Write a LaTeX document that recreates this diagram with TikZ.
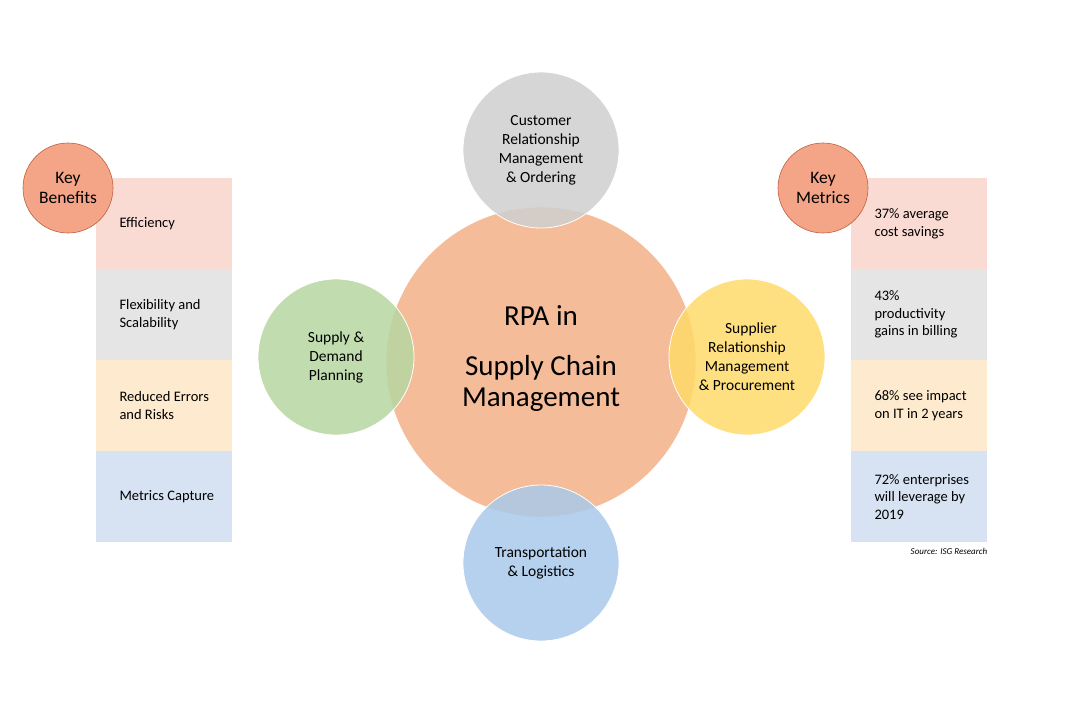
\documentclass[tikz,border=0pt]{standalone}
\usepackage{fontspec}
\setmainfont{Carlito}
\usetikzlibrary{positioning}
\definecolor{hubfill}{HTML}{F4BC98}
\definecolor{crmfill}{HTML}{CFCFCF}
\definecolor{tlfill}{HTML}{A9C9EA}
\definecolor{sdpfill}{HTML}{B6D7A1}
\definecolor{srmfill}{HTML}{FFDA6A}
\definecolor{keyfill}{HTML}{F4A587}
\definecolor{keyline}{HTML}{C0603E}
\definecolor{rowa}{HTML}{FADBD3}
\definecolor{rowb}{HTML}{E5E5E5}
\definecolor{rowc}{HTML}{FEEACF}
\definecolor{rowd}{HTML}{D7E2F2}
\tikzset{
  sat/.style={circle, minimum size=156pt, inner sep=0pt, draw=white, line width=0.8pt,
    fill opacity=0.85, text opacity=1, align=center, font=\fontsize{15.5}{19}\selectfont},
  key/.style={circle, minimum size=90pt, inner sep=0pt, fill=keyfill, draw=keyline,
    line width=0.6pt, align=center, font=\fontsize{17.5}{20}\selectfont},
  row/.style={minimum width=136pt, minimum height=91pt, inner sep=0pt, anchor=north west},
  rowtext/.style={anchor=west, align=left, font=\fontsize{14.5}{17.5}\selectfont}
}
\begin{document}
\begin{tikzpicture}[x=1pt,y=-1pt]
\useasboundingbox (0,0) rectangle (1088,716);
% hub
\node[circle, minimum size=310pt, fill=hubfill, draw=white, line width=0.8pt] (hub) at (541,362) {};
\node[font=\fontsize{29}{34}\selectfont] (hubtop) at (541,316) {RPA in};
\node[font=\fontsize{29}{31}\selectfont, align=center] (hubbot) at (541,383) {Supply Chain\\Management};
% satellites
\node[sat, fill=crmfill] (crm) at (541,150) {Customer\\Relationship\\Management\\\& Ordering};
\node[sat, fill=tlfill] (tl) at (541,563) {Transportation\\\& Logistics};
\node[sat, fill=sdpfill] (sdp) at (336,357) {Supply \&\\Demand\\Planning};
\node[sat, fill=srmfill] (srm) at (747,357) {\hspace*{8pt}Supplier\\Relationship\\Management\\\& Procurement};
% left panel
\foreach \c/\t [count=\i] in {rowa/Efficiency, rowb/{Flexibility and\\Scalability},
    rowc/{Reduced Errors\\and Risks}, rowd/Metrics Capture} {
  \node[row, fill=\c] (ben\i) at (96,{178+91*(\i-1)}) {};
  \node[rowtext] at ([xshift=20pt]ben\i.west) {\t};
}
\node[key] (benkey) at (68,188) {Key\\Benefits};
% right panel
\foreach \c/\t [count=\i] in {rowa/{37\% average\\cost savings}, rowb/{43\%\\productivity\\gains in billing},
    rowc/{68\% see impact\\on IT in 2 years}, rowd/{72\% enterprises\\will leverage by\\2019}} {
  \node[row, fill=\c] (met\i) at (851,{178+91*(\i-1)}) {};
  \node[rowtext] at ([xshift=20pt]met\i.west) {\t};
}
\node[key] (metkey) at (823,188) {Key\\Metrics};
\node[anchor=north east, inner sep=0pt, font=\fontsize{9}{11}\selectfont\itshape] (src)
  at ([yshift=-6pt]met4.south east) {Source: ISG Research};
\end{tikzpicture}
\end{document}
